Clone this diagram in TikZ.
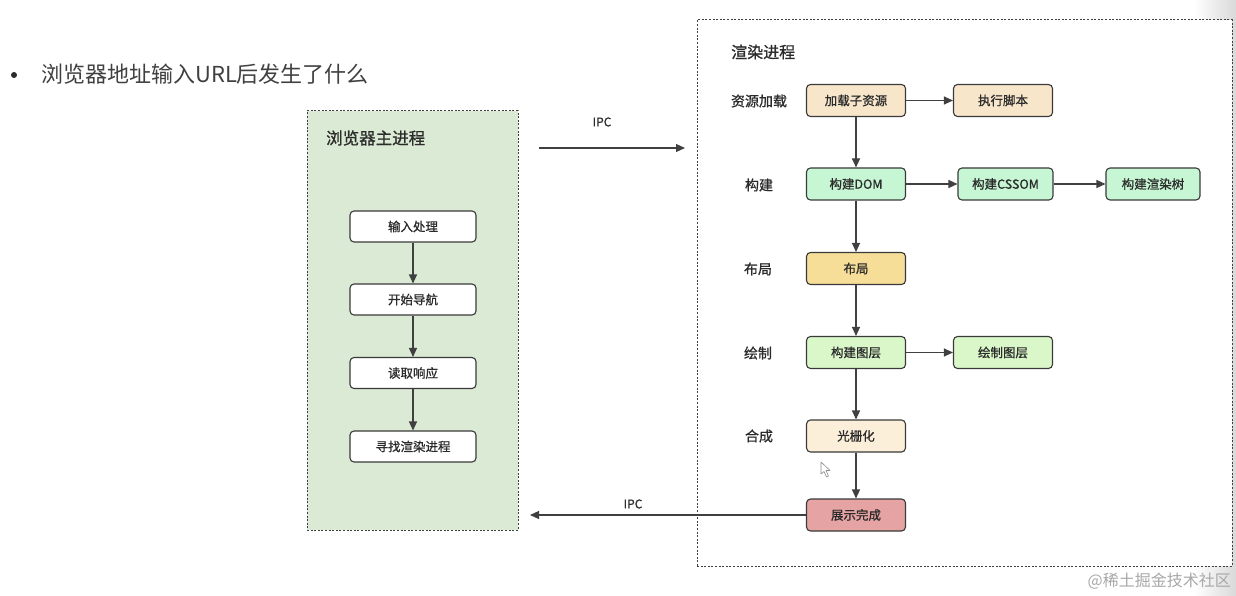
\documentclass[tikz,border=0pt]{standalone}
\usepackage{fontspec}
\setmainfont{Noto Sans CJK SC}
\newfontfamily\semib{Noto Sans CJK SC}[FakeBold=0.9]
\usetikzlibrary{arrows.meta,positioning}
\definecolor{bordergray}{HTML}{3A3A3A}
\definecolor{textdark}{HTML}{2B2B2B}
\definecolor{arrowgray}{HTML}{404040}
\definecolor{panelgreen}{HTML}{DAEAD4}
\definecolor{peach}{HTML}{F7E6CA}
\definecolor{mint}{HTML}{C6F6D3}
\definecolor{lime}{HTML}{DAF7CA}
\definecolor{gold}{HTML}{F6DE98}
\definecolor{beige}{HTML}{FCEFD9}
\definecolor{rose}{HTML}{E6A3A3}
\definecolor{wmgray}{HTML}{A8A8A8}
\begin{document}
\begin{tikzpicture}[x=1pt,y=-1pt,
  stepbox/.style={draw=bordergray, line width=1.1pt, rounded corners=4pt,
    minimum width=99pt, minimum height=32pt, inner sep=0pt,
    font=\semib\fontsize{12.5}{14}\selectfont, text=textdark},
  leftbox/.style={stepbox, fill=white, minimum width=126pt, minimum height=31pt},
  rowlabel/.style={font=\semib\fontsize{14}{16}\selectfont, text=textdark, inner sep=0pt},
  titlelabel/.style={font=\semib\fontsize{16}{18}\selectfont, text=textdark, inner sep=0pt, anchor=west},
  panel/.style={draw=arrowgray, line width=1pt, dash pattern=on 2pt off 1.6pt, inner sep=0pt},
  flow/.style={draw=arrowgray, line width=1.1pt, -{Triangle[length=9pt,width=8pt]}},
  ipclabel/.style={font=\semib\fontsize{12}{14}\selectfont, text=textdark, inner sep=0pt}
]
\useasboundingbox (0,0) rectangle (1236,596);
\fill[white] (0,0) rectangle (1236,596);
\shade[left color=white, right color=black!15] (1194,0) rectangle (1236,596);

% bullet title
\node[circle, fill=textdark, inner sep=0pt, minimum size=6pt] (bullet) at (14,75) {};
\node[anchor=west, inner sep=0pt, font=\fontsize{22}{26}\selectfont, text=black!75] (headline) at (41,74) {浏览器地址输入URL后发生了什么};

% left panel
\node[panel, fill=panelgreen, minimum width=211pt, minimum height=419pt] (leftpanel) at (412.5,320.5) {};
\node[titlelabel, font=\semib\fontsize{16.5}{18}\selectfont] (lefttitle) at (326,138) {浏览器主进程};
\node[leftbox] (input) at (413,226.5) {输入处理};
\node[leftbox] (nav) at (413,299.5) {开始导航};
\node[leftbox] (read) at (413,373) {读取响应};
\node[leftbox] (find) at (413,446.5) {寻找渲染进程};
\draw[flow] (input) -- (nav);
\draw[flow] (nav) -- (read);
\draw[flow] (read) -- (find);

% right panel
\node[panel, fill=white, minimum width=535pt, minimum height=546pt] (rightpanel) at (964.5,293) {};
\node[titlelabel] (righttitle) at (731,52) {渲染进程};

\node[rowlabel] (lab1) at (759,101) {资源加载};
\node[rowlabel] (lab2) at (759,185) {构建};
\node[rowlabel] (lab3) at (758,269) {布局};
\node[rowlabel] (lab4) at (758,353) {绘制};
\node[rowlabel] (lab5) at (759,436) {合成};

\node[stepbox, fill=peach] (load) at (856,100.5) {加载子资源};
\node[stepbox, fill=peach] (exec) at (1003,100.5) {执行脚本};
\node[stepbox, fill=mint] (dom) at (856,184) {构建DOM};
\node[stepbox, fill=mint, minimum width=95pt] (cssom) at (1005.5,184) {构建CSSOM};
\node[stepbox, fill=mint, minimum width=94pt] (rtree) at (1153,184) {构建渲染树};
\node[stepbox, fill=gold] (layout) at (856,268.5) {布局};
\node[stepbox, fill=lime] (layer) at (856,352.5) {构建图层};
\node[stepbox, fill=lime] (paint) at (1003,352.5) {绘制图层};
\node[stepbox, fill=beige] (raster) at (856,436) {光栅化};
\node[stepbox, fill=rose] (show) at (856,515) {展示完成};

\draw[flow] (load) -- (exec);
\draw[flow] (load) -- (dom);
\draw[flow] (dom) -- (cssom);
\draw[flow] (cssom) -- (rtree);
\draw[flow] (dom) -- (layout);
\draw[flow] (layout) -- (layer);
\draw[flow] (layer) -- (paint);
\draw[flow] (layer) -- (raster);
\draw[flow] (raster) -- (show);

% IPC arrows
\coordinate (ipcstart) at (539,148);
\coordinate (ipcend) at (685,148);
\draw[flow] (ipcstart) -- (ipcend);
\node[ipclabel] (ipctop) at (602,122) {IPC};
\coordinate (ipcback) at (530,515);
\draw[flow] (show.west) -- (ipcback);
\node[ipclabel] (ipcbottom) at (633,504) {IPC};

% mouse cursor
\draw[black!45, fill=white, line width=0.6pt, line join=round]
  (821,462) -- (821,474) -- (824,471.5) -- (826.5,477) -- (828.5,476) -- (826,470.5) -- (830,470.5) -- cycle;

% watermark
\node[anchor=east, inner sep=0pt, font=\fontsize{16}{18}\selectfont, text=wmgray] (watermark) at (1231,581) {@稀土掘金技术社区};
\end{tikzpicture}
\end{document}
